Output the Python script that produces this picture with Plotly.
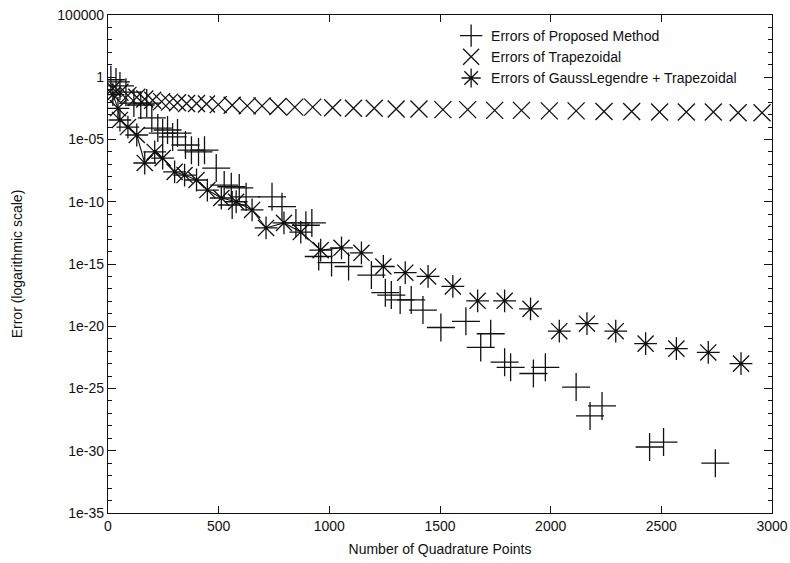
import plotly.graph_objects as go

# ---------------- data ----------------
trap_x = [22, 54, 90, 130, 166, 202, 242, 278, 314, 355, 400, 445, 498, 561, 629, 696,
          768, 844, 925, 1015, 1109, 1203, 1302, 1405, 1513, 1625, 1747, 1868, 1994,
          2115, 2241, 2366, 2492, 2613, 2735, 2847, 2955]
trap_y = [0.126, 0.063, 0.035, 0.025, 0.018, 0.014, 0.011, 0.010, 0.0089, 0.0079,
          0.0079, 0.0071, 0.0063, 0.0056, 0.0050, 0.0050, 0.0045, 0.0040, 0.0040,
          0.0035, 0.0032, 0.0032, 0.0028, 0.0028, 0.0025, 0.0025, 0.0022, 0.0022,
          0.0020, 0.0020, 0.0018, 0.0018, 0.0016, 0.0016, 0.0016, 0.0014, 0.0014]

prop_x = [13, 36, 54, 81, 117, 148, 175, 198, 225, 247, 269, 292, 314, 350, 377, 409,
          436, 489, 525, 557, 561, 593, 624, 741, 786, 849, 894, 921, 952, 1010, 1087,
          1190, 1253, 1280, 1320, 1370, 1423, 1504, 1617, 1684, 1729, 1792, 1819, 1922,
          1976, 2115, 2178, 2232, 2447, 2510, 2744]
prop_y = [0.63, 0.42, 0.2, 0.063, 8.5e-3, 5.9e-3, 8.5e-3, 5.4e-4, 8.3e-5, 3.3e-5,
          5.8e-5, 1.6e-5, 3.3e-5, 3.6e-6, 1.4e-6, 1e-6, 1.4e-6, 5.1e-8, 2.2e-9, 1.6e-9,
          5.5e-11, 1.3e-9, 2.5e-10, 2.5e-10, 4e-11, 2e-12, 1.3e-12, 2e-12, 4e-15,
          1.3e-15, 6.3e-16, 1.3e-16, 5e-18, 3.2e-18, 1.3e-18, 1.3e-18, 2e-19, 7.9e-21,
          2.5e-20, 2e-22, 2.5e-21, 1.3e-23, 5e-24, 1.6e-24, 5e-24, 1.3e-25, 6.3e-28,
          4e-27, 2e-30, 5e-30, 1e-31]

gl_x = [22, 45, 54, 90, 130, 166, 211, 247, 301, 346, 400, 449, 512, 579, 651, 714,
        795, 871, 961, 1055, 1145, 1244, 1343, 1446, 1558, 1670, 1792, 1909, 2039,
        2164, 2294, 2429, 2568, 2712, 2860]
gl_y = [4e-2, 3.2e-3, 3.7e-4, 1e-4, 2.3e-5, 1.3e-7, 1e-6, 3.2e-7, 2.5e-8, 1.4e-8,
        5.6e-9, 8.7e-10, 2e-10, 1e-10, 2.2e-11, 7.9e-13, 2e-12, 3.7e-13, 1.3e-14,
        2e-14, 7.9e-15, 6.3e-16, 2e-16, 1e-16, 1.6e-17, 1.1e-18, 1.1e-18, 2.5e-19,
        4e-21, 1.6e-20, 4e-21, 4e-22, 1.6e-22, 7.9e-23, 1e-23]
gl_line_count = 20  # the early part of this series is joined by a line

y_tickvals = [1e5, 1, 1e-5, 1e-10, 1e-15, 1e-20, 1e-25, 1e-30, 1e-35]
y_ticktext = ["100000", "1", "1e-05", "1e-10", "1e-15", "1e-20", "1e-25", "1e-30", "1e-35"]
y_minor = [10.0 ** k for k in range(-35, 6)]
x_tickvals = [0, 500, 1000, 1500, 2000, 2500, 3000]

names = ["Errors of Proposed Method", "Errors of Trapezoidal",
         "Errors of GaussLegendre + Trapezoidal"]

FONT = "Liberation Sans, Arial, Helvetica, sans-serif"
INK = "#111111"

fig = go.Figure()
fig.add_trace(go.Scatter(
    x=gl_x[:gl_line_count], y=gl_y[:gl_line_count], mode="lines",
    line=dict(color=INK, width=1.1), showlegend=False, hoverinfo="skip"))
fig.add_trace(go.Scatter(
    x=prop_x, y=prop_y, mode="markers", name=names[0],
    marker=dict(symbol="cross-thin-open", size=20, color=INK,
                line=dict(color=INK, width=1.3))))
fig.add_trace(go.Scatter(
    x=trap_x, y=trap_y, mode="markers", name=names[1],
    marker=dict(symbol="x-thin-open", size=17, color=INK,
                line=dict(color=INK, width=1.3))))
fig.add_trace(go.Scatter(
    x=gl_x, y=gl_y, mode="markers", name=names[2],
    marker=dict(symbol="asterisk-open", size=19, color=INK,
                line=dict(color=INK, width=1.3))))

fig.update_layout(
    width=790, height=563,
    margin=dict(l=108, r=18, t=15, b=50, autoexpand=False),
    paper_bgcolor="white", plot_bgcolor="white",
    font=dict(family=FONT, size=14, color=INK),
    showlegend=True,
    legend=dict(x=0.955, y=0.99, xanchor="right", yanchor="top",
                bgcolor="rgba(0,0,0,0)", font=dict(size=14, color=INK),
                itemsizing="trace", tracegroupgap=0),
)
fig.update_xaxes(
    range=[0, 3000], tickvals=x_tickvals, ticks="inside", ticklen=7, tickwidth=1,
    tickcolor=INK, showline=True, linecolor=INK, linewidth=1.3,
    mirror="allticks", showgrid=False, zeroline=False, automargin=False,
    ticklabeloverflow="allow",
    title=dict(text="Number of Quadrature Points", standoff=11, font=dict(size=14)),
    tickfont=dict(size=14))
fig.update_yaxes(
    type="log", range=[-35, 5], tickvals=y_tickvals, ticktext=y_ticktext,
    ticks="inside", ticklen=8, tickwidth=1, tickcolor=INK,
    showline=True, linecolor=INK, linewidth=1.3, mirror="allticks",
    showgrid=False, zeroline=False, automargin=False,
    ticklabeloverflow="allow",
    minor=dict(tickvals=y_minor, ticks="inside", ticklen=4, tickcolor=INK,
               showgrid=False),
    title=dict(text="Error (logarithmic scale)", standoff=31, font=dict(size=14)),
    tickfont=dict(size=14))

fig.write_html("out.html", config={"displayModeBar": False},
               post_script="document.body.style.margin='0';document.body.style.overflow='hidden';")
